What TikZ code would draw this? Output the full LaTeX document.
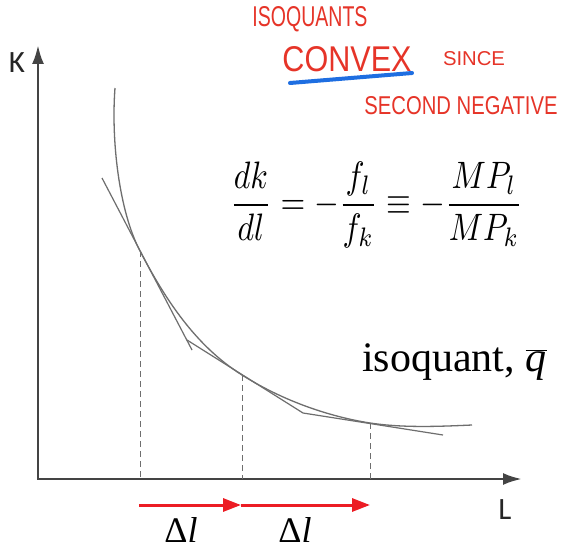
\documentclass[tikz,border=0pt]{standalone}
\usepackage{fontspec}
\usepackage{graphicx}
\usetikzlibrary{arrows.meta}
\newfontfamily\serifTNR{Liberation Serif}
\newfontfamily\calib{Carlito}
\newfontfamily\hand{Liberation Sans}
\definecolor{axisgray}{RGB}{68,68,68}
\definecolor{curvegray}{RGB}{110,110,110}
\definecolor{arrowred}{RGB}{236,28,36}
\definecolor{handred}{RGB}{230,52,40}
\definecolor{penblue}{RGB}{30,110,225}
\begin{document}
\begin{tikzpicture}[x=1pt,y=-1pt,
  axisline/.style={draw=axisgray,line width=2.8pt,{Latex[length=19pt,width=12pt]}-{Latex[length=19pt,width=12pt]}},
  curveline/.style={draw=curvegray,line width=1.3pt},
  tanline/.style={draw=curvegray,line width=1.2pt},
  dropline/.style={draw=curvegray,line width=1pt,dash pattern=on 6pt off 4pt},
  steparrow/.style={draw=arrowred,line width=3pt,-{Triangle[length=18pt,width=13pt]}},
  handtext/.style={text=handred,inner sep=0pt},
  axlabel/.style={font=\calib\fontsize{31}{31}\selectfont,text=black!85,inner sep=0pt},
  dltext/.style={font=\serifTNR\fontsize{36}{36}\selectfont,inner sep=0pt},
  ]
\useasboundingbox (0,0) rectangle (562,551);
\fill[white] (0,0) rectangle (562,551);
% axes
\coordinate (O) at (38,479);
\coordinate (Ktip) at (38,45);
\coordinate (Ltip) at (522,479);
\draw[axisline] (Ktip) -- (O) -- (Ltip);
\node[axlabel] (K) at (17,63) {K};
\node[axlabel] (L) at (505,510) {L};
% isoquant
\coordinate (Q0) at (115,88);
\coordinate (A) at (140,251);
\coordinate (B) at (242,375);
\coordinate (C) at (370,423);
\coordinate (Q4) at (472,425);
\draw[curveline] (Q0) .. controls (111,140) and (119,211) .. (A)
  .. controls (165.5,299.7) and (195.5,345.7) .. (B)
  .. controls (280,399) and (325.5,416) .. (C)
  .. controls (403,428) and (439,426.5) .. (Q4);
% tangents
\coordinate (T1a) at (102,178);
\coordinate (T1b) at (192,350);
\coordinate (T2a) at (187,340);
\coordinate (T2b) at (303,413);
\coordinate (T3b) at (443,435);
\draw[tanline] (T1a) -- (T1b);
\draw[tanline] (T2a) -- (T2b) -- (T3b);
% drop lines
\draw[dropline] (A) -- (A |- O);
\draw[dropline] (B) -- (B |- O);
\draw[dropline] (C) -- (C |- O);
% red step arrows
\coordinate (R1) at (139,505);
\coordinate (R2) at (241,505);
\coordinate (R3) at (370,505);
\draw[steparrow] (R1) -- (R2);
\draw[steparrow] (R2) -- (R3);
\node[dltext] (d1) at (181,530) {Δ\textit{l}};
\node[dltext] (d2) at (295,530) {Δ\textit{l}};
% labels
\node[anchor=base west,font=\serifTNR\fontsize{42}{42}\selectfont,inner sep=0pt] (iso) at (362,371) {isoquant, $\overline{\mbox{\textit{q}}}$};
\node[inner sep=0pt] (eq) at (376.5,205) {\resizebox*{293pt}{86pt}{$\displaystyle \frac{dk}{dl} = -\frac{f_l}{f_k} \equiv -\frac{MP_l}{MP_k}$}};
% handwriting
\node[handtext] (hw1) at (310,19) {\resizebox{115pt}{20pt}{\hand ISOQUANTS}};
\node[handtext] (hw2) at (347,59) {\resizebox{129pt}{25pt}{\hand CONVEX}};
\node[handtext] (hw3) at (474,59) {\resizebox{62pt}{14pt}{\hand SINCE}};
\node[handtext] (hw4) at (461,106) {\resizebox{193pt}{18pt}{\hand SECOND NEGATIVE}};
\coordinate (U1) at (290,83);
\coordinate (U2) at (412,73);
\draw[penblue,line width=4pt,line cap=round] (U1) -- (U2);
\end{tikzpicture}
\end{document}
